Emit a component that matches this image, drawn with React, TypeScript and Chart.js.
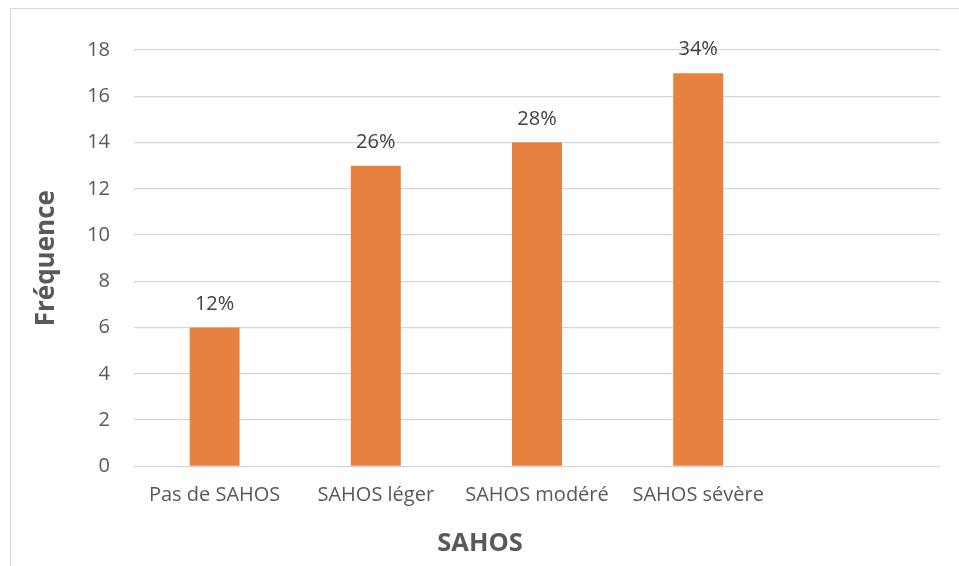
import React, { useEffect, useRef } from "react";
import { Chart, registerables } from "chart.js";

Chart.register(...registerables);

const categories = ["Pas de SAHOS", "SAHOS léger", "SAHOS modéré", "SAHOS sévère", ""];
const frequencies = [6, 13, 14, 17, null];
const percentLabels = ["12%", "26%", "28%", "34%", ""];
const yTickValues = [0, 2, 4, 6, 8, 10, 12, 14, 16, 18];
const xAxisTitle = "SAHOS";
const yAxisTitle = "Fréquence";

const FONT = "'Open Sans', 'DejaVu Sans', sans-serif";

const barLabelPlugin = {
  id: "barLabels",
  afterDatasetsDraw(chart: any) {
    const ctx = chart.ctx;
    const meta = chart.getDatasetMeta(0);
    ctx.save();
    ctx.font = `20px ${FONT}`;
    ctx.fillStyle = "#404040";
    ctx.textAlign = "center";
    ctx.textBaseline = "alphabetic";
    meta.data.forEach((bar: any, i: number) => {
      const v = frequencies[i];
      if (v === null || v === undefined) return;
      ctx.fillText(percentLabels[i], bar.x, bar.y - 18);
    });
    ctx.restore();
  },
};

export default function App() {
  const ref = useRef<HTMLCanvasElement>(null);

  useEffect(() => {
    if (!ref.current) return;
    const chart = new Chart(ref.current, {
      type: "bar",
      data: {
        labels: categories,
        datasets: [
          {
            data: frequencies as any,
            backgroundColor: "#E6813F",
            borderWidth: 0,
            barPercentage: 0.31,
            categoryPercentage: 1,
          },
        ],
      },
      plugins: [barLabelPlugin],
      options: {
        responsive: false,
        animation: false,
        layout: { padding: { left: 20, right: 19, top: 50, bottom: 7 } },
        plugins: {
          legend: { display: false },
          tooltip: { enabled: false },
          title: {
            display: true,
            position: "bottom",
            text: xAxisTitle,
            color: "#595959",
            font: { family: FONT, size: 25.5, weight: "bold" },
            padding: { top: 4, bottom: 0 },
          },
        },
        scales: {
          x: {
            grid: { display: false, drawTicks: false },
            border: { display: false },
            ticks: {
              color: "#595959",
              font: { family: FONT, size: 20 },
              padding: 17,
              maxRotation: 0,
              autoSkip: false,
            },
            afterFit(scale: any) {
              scale.height = 58;
            },
          },
          y: {
            min: 0,
            max: 18,
            afterBuildTicks(scale: any) {
              scale.ticks = yTickValues.map((v) => ({ value: v }));
            },
            grid: { color: "#d6d6d6", lineWidth: 1.3, drawTicks: false },
            border: { display: false },
            ticks: {
              color: "#595959",
              font: { family: FONT, size: 20 },
              padding: 24,
            },
            title: {
              display: true,
              text: yAxisTitle,
              color: "#595959",
              font: { family: FONT, size: 26, weight: "bold" },
              padding: { top: 11, bottom: 0 },
            },
            afterFit(scale: any) {
              scale.width = 114;
            },
          },
        },
      },
    });
    return () => chart.destroy();
  }, []);

  return (
    <div style={{ position: "fixed", left: 0, top: 0, width: 959, height: 566, background: "#fff" }}>
      <div
        style={{
          position: "absolute",
          left: 10,
          top: 8,
          width: 949,
          height: 558,
          borderLeft: "1px solid #d9d9d9",
          borderTop: "1px solid #d9d9d9",
        }}
      />
      <canvas
        ref={ref}
        width={959}
        height={566}
        style={{ position: "absolute", left: 0, top: 0, width: 959, height: 566 }}
      />
    </div>
  );
}
